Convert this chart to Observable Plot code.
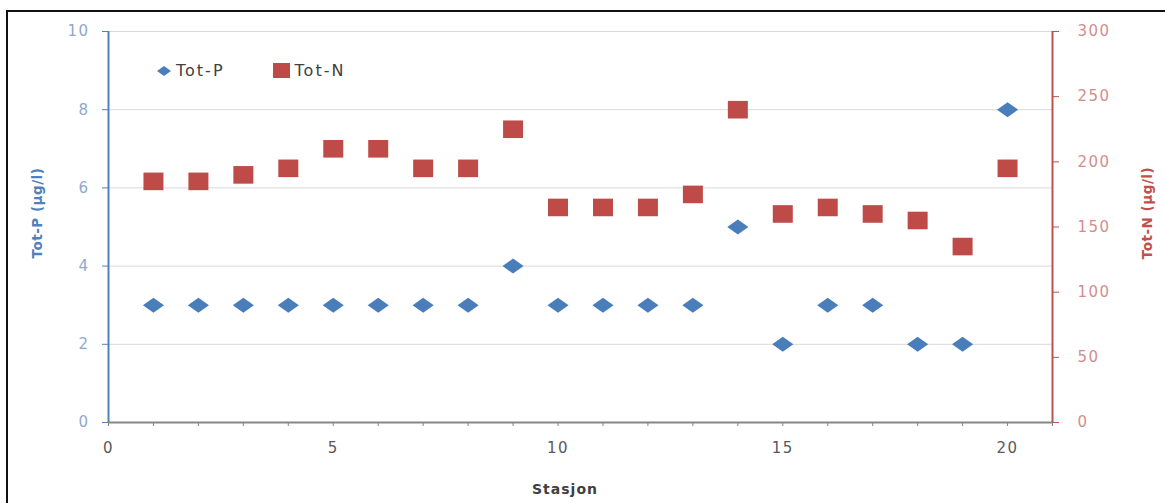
<!DOCTYPE html>
<html>
<head>
<meta charset="utf-8">
<script src="https://cdn.jsdelivr.net/npm/d3@7"></script>
<script src="https://cdn.jsdelivr.net/npm/@observablehq/plot@0.6"></script>
<style>
  html, body { margin: 0; padding: 0; background: #fff; overflow: hidden; }
  #wrap { position: relative; width: 1165px; height: 503px; overflow: hidden; font-family: "DejaVu Sans", sans-serif; }
  #frame { position: absolute; left: 6px; top: 10px; width: 1170px; height: 600px; border: 2px solid #111; box-sizing: border-box; pointer-events: none; }
  #chart { position: absolute; left: 0; top: 0; }
  #chart svg text { letter-spacing: 1.5px; }
  .ytitle { position: absolute; font-weight: bold; font-size: 13.5px; white-space: nowrap; transform: translate(-50%, -50%) rotate(-90deg); letter-spacing: 0.5px; }
  #xtitle { position: absolute; left: 565px; top: 489px; transform: translate(-50%, -50%); font-weight: bold; font-size: 14px; color: #404040; letter-spacing: 1px; }
  #legend { position: absolute; left: 157px; top: 61px; display: flex; align-items: center; font-size: 16px; color: #404040; letter-spacing: 2px; }
  #legend .item { display: flex; align-items: center; margin-right: 48px; }
  #legend svg { margin-right: 5px; }
</style>
</head>
<body>
<div id="wrap">
  <div id="chart"></div>
  <div id="legend"></div>
  <div class="ytitle" style="left:37px; top:213px; color:#4F81BD;">Tot-P (µg/l)</div>
  <div class="ytitle" style="left:1147px; top:213px; color:#C0504D;">Tot-N (µg/l)</div>
  <div id="xtitle">Stasjon</div>
  <div id="frame"></div>
</div>
<script>
// ---- data ----
const stations = [1, 2, 3, 4, 5, 6, 7, 8, 9, 10, 11, 12, 13, 14, 15, 16, 17, 18, 19, 20];
const totP = [3, 3, 3, 3, 3, 3, 3, 3, 4, 3, 3, 3, 3, 5, 2, 3, 3, 2, 2, 8];
const totN = [185, 185, 190, 195, 210, 210, 195, 195, 225, 165, 165, 165, 175, 240, 160, 165, 160, 155, 135, 195];
const xTickLabels = [0, 5, 10, 15, 20];
const xMinorTicks = [0, 1, 2, 3, 4, 5, 6, 7, 8, 9, 10, 11, 12, 13, 14, 15, 16, 17, 18, 19, 20, 21];
const pTicks = [0, 2, 4, 6, 8, 10];
const nTicks = [0, 50, 100, 150, 200, 250, 300];
const seriesNames = ["Tot-P", "Tot-N"];
const colors = { "Tot-P": "#4A7EBB", "Tot-N": "#BE4B48" };

const xMax = 21, pMax = 10, nMax = 300;
const nToP = pMax / nMax;

const rows = stations.map((s, i) => ({ s, P: totP[i], N: totN[i] }));

// wide diamond and slightly wide square symbols
function makeSymbol(wRatio, hRatio, kind) {
  return {
    draw(ctx, size) {
      const r = Math.sqrt(size / Math.PI);
      const hw = r * wRatio, hh = r * hRatio;
      if (kind === "diamond") {
        ctx.moveTo(0, -hh); ctx.lineTo(hw, 0); ctx.lineTo(0, hh); ctx.lineTo(-hw, 0); ctx.closePath();
      } else {
        ctx.moveTo(-hw, -hh); ctx.lineTo(hw, -hh); ctx.lineTo(hw, hh); ctx.lineTo(-hw, hh); ctx.closePath();
      }
    }
  };
}
const diamondSym = makeSymbol(1.1, 0.78, "diamond");
const squareSym = makeSymbol(1.0, 0.88, "square");

const plot = Plot.plot({
  width: 1165,
  height: 503,
  marginLeft: 108,
  marginRight: 113,
  marginTop: 31,
  marginBottom: 81,
  style: { fontFamily: "DejaVu Sans, sans-serif", fontSize: "15px", background: "transparent" },
  x: { domain: [0, xMax] },
  y: { domain: [0, pMax] },
  marks: [
    Plot.gridY(pTicks.filter(d => d > 0), { stroke: "#D9D9D9", strokeOpacity: 1 }),
    Plot.ruleY([0], { stroke: "#868686", strokeWidth: 2 }),
    Plot.axisX({ ticks: xMinorTicks, tickFormat: () => "", tickSize: 4, stroke: "#868686", label: null }),
    Plot.axisX({ ticks: xTickLabels, tickSize: 0, tickPadding: 20, fill: "#595959", fontSize: 15, label: null }),
    Plot.ruleX([0], { stroke: "#4F81BD", strokeWidth: 2 }),
    Plot.axisY({ anchor: "left", ticks: pTicks, tickSize: 6, tickPadding: 13, stroke: "#4F81BD", fill: "#8FA9CD", fontSize: 15, label: null }),
    Plot.ruleX([xMax], { stroke: "#C0504D", strokeWidth: 2 }),
    Plot.axisY({ anchor: "right", ticks: nTicks.map(v => v * nToP), tickFormat: d => String(Math.round(d / nToP)), tickSize: 6, tickPadding: 19, stroke: "#C0504D", fill: "#D28E8C", fontSize: 15, label: null }),
    Plot.dot(rows, { x: "s", y: d => d.N * nToP, symbol: squareSym, r: 10, fill: colors["Tot-N"], stroke: null }),
    Plot.dot(rows, { x: "s", y: "P", symbol: diamondSym, r: 9.6, fill: colors["Tot-P"], stroke: null })
  ]
});
document.getElementById("chart").appendChild(plot);

// legend
const legend = document.getElementById("legend");
seriesNames.forEach(name => {
  const item = document.createElement("div");
  item.className = "item";
  const isP = name === "Tot-P";
  const w = isP ? 14 : 17, h = isP ? 10 : 15;
  const shape = isP
    ? `<polygon points="${w/2},0 ${w},${h/2} ${w/2},${h} 0,${h/2}" fill="${colors[name]}"/>`
    : `<rect x="0" y="0" width="${w}" height="${h}" fill="${colors[name]}"/>`;
  item.innerHTML = `<svg width="${w}" height="${h}">${shape}</svg><span>${name}</span>`;
  legend.appendChild(item);
});
</script>
</body>
</html>
